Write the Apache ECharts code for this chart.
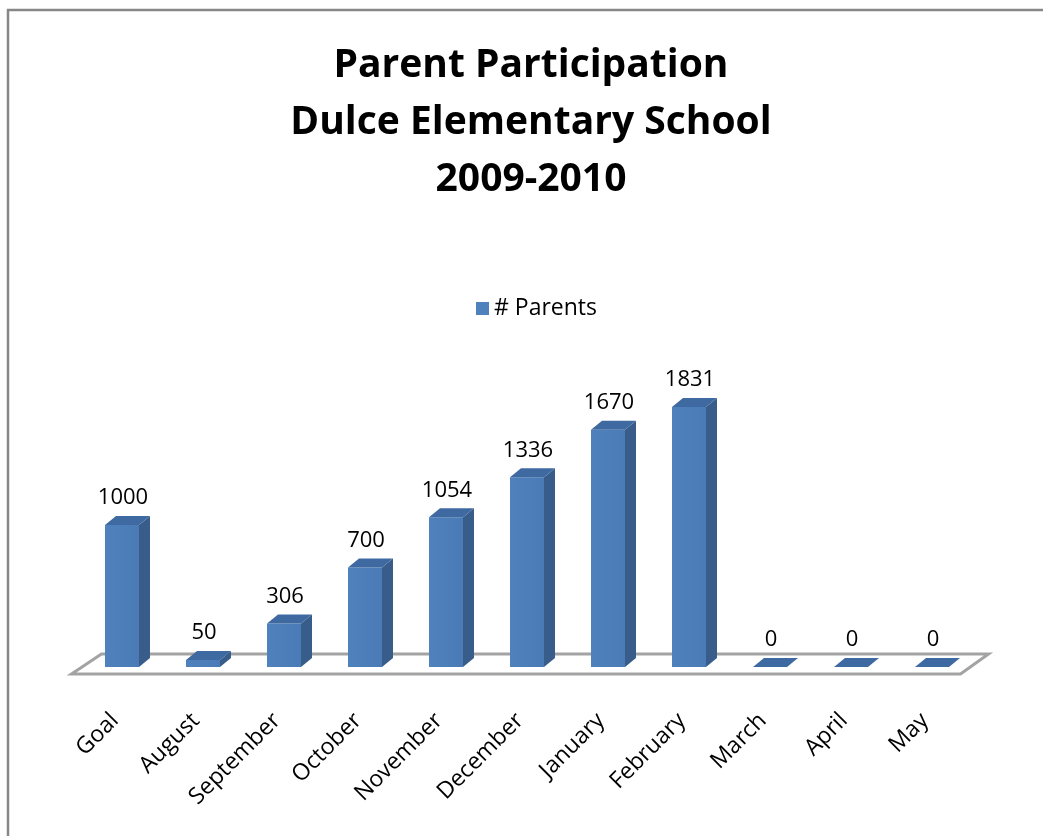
<!DOCTYPE html>
<html>
<head>
<meta charset="utf-8">
<script src="https://cdn.jsdelivr.net/npm/echarts@6/dist/echarts.min.js"></script>
<style>
html,body{margin:0;padding:0;background:#fff;}
#chart{width:1043px;height:836px;}
</style>
</head>
<body>
<div id="chart"></div>
<script>
const categories = ['Goal','August','September','October','November','December','January','February','March','April','May'];
const parents = [1000, 50, 306, 700, 1054, 1336, 1670, 1831, 0, 0, 0];
const titleLines = ['Parent Participation', 'Dulce Elementary School', '2009-2010'];
const seriesName = '# Parents';

const FONT = 'Open Sans';
const chart = echarts.init(document.getElementById('chart'), null, {renderer: 'canvas'});

const BAR_W = 34, DX = 11, DY = -9;

function renderBar(params, api) {
  const idx = api.value(0);
  const v = api.value(1);
  const top = api.coord([idx, v]);
  const base = api.coord([idx, 0]);
  const x0 = top[0] - BAR_W / 2, x1 = top[0] + BAR_W / 2;
  const yt = top[1], yb = base[1];
  const children = [];
  children.push({
    type: 'polygon',
    shape: {points: [[x1, yb], [x1, yt], [x1 + DX, yt + DY], [x1 + DX, yb + DY]]},
    style: {fill: '#385d8a'}
  });
  if (yb - yt > 0.5) {
    children.push({
      type: 'rect',
      shape: {x: x0, y: yt, width: BAR_W, height: yb - yt},
      style: {fill: new echarts.graphic.LinearGradient(0, 0, 1, 0, [
        {offset: 0, color: '#4f81bd'}, {offset: 1, color: '#4a7bb7'}])}
    });
  }
  children.push({
    type: 'polygon',
    shape: {points: [[x0, yt], [x1, yt], [x1 + DX, yt + DY], [x0 + DX, yt + DY]]},
    style: {fill: '#3f6aa1'}
  });
  children.push({
    type: 'text',
    style: {
      text: String(v),
      x: top[0] + 1,
      y: yt + DY - 18,
      align: 'center',
      verticalAlign: 'middle',
      fontFamily: FONT,
      fontSize: 22,
      fill: '#000'
    }
  });
  return {type: 'group', children: children};
}

function renderFloor(params, api) {
  const cs = params.coordSys;
  const y0 = cs.y + cs.height;
  const fl = [cs.x - 10, y0 + 7];
  const fr = [cs.x + cs.width - 12, y0 + 7];
  const br = [cs.x + cs.width + 16, y0 - 13];
  const bl = [cs.x + 20, y0 - 13];
  return {
    type: 'polygon',
    shape: {points: [fl, fr, br, bl]},
    style: {fill: '#ffffff', stroke: '#a3a3a3', lineWidth: 3}
  };
}

const option = {
  backgroundColor: '#ffffff',
  animation: false,
  title: {
    text: titleLines.join('\n'),
    left: 531,
    textAlign: 'center',
    top: 37,
    padding: 0,
    textStyle: {
      fontFamily: FONT,
      fontWeight: 'bold',
      fontSize: 39,
      lineHeight: 57,
      color: '#000'
    }
  },
  legend: {
    data: [seriesName],
    left: 476,
    top: 297,
    padding: 0,
    itemWidth: 13,
    itemHeight: 13,
    itemGap: 5,
    icon: 'rect',
    textStyle: {fontFamily: FONT, fontSize: 23, color: '#000'}
  },
  graphic: [{
    type: 'rect',
    shape: {x: 8, y: 10, width: 1200, height: 1000},
    style: {fill: 'none', stroke: '#878787', lineWidth: 2.5},
    z: 100
  }],
  grid: {left: 81.5, right: 70.5, top: 383, bottom: 169},
  xAxis: {
    type: 'category',
    data: categories,
    boundaryGap: true,
    axisLine: {show: false},
    axisTick: {show: false},
    axisLabel: {
      rotate: 45,
      margin: 43,
      interval: 0,
      padding: [0, 10, 0, 0],
      fontFamily: FONT,
      fontSize: 23,
      color: '#000'
    }
  },
  yAxis: {
    type: 'value',
    min: 0,
    max: 2000,
    show: false,
    splitLine: {show: false}
  },
  series: [
    {
      type: 'custom',
      name: 'floor',
      renderItem: renderFloor,
      data: [[0]],
      z: 1,
      silent: true
    },
    {
      type: 'custom',
      name: seriesName,
      renderItem: renderBar,
      itemStyle: {color: '#4f81bd'},
      encode: {x: 0, y: 1},
      data: parents.map((v, i) => [i, v]),
      z: 2
    }
  ]
};
chart.setOption(option);
</script>
</body>
</html>
